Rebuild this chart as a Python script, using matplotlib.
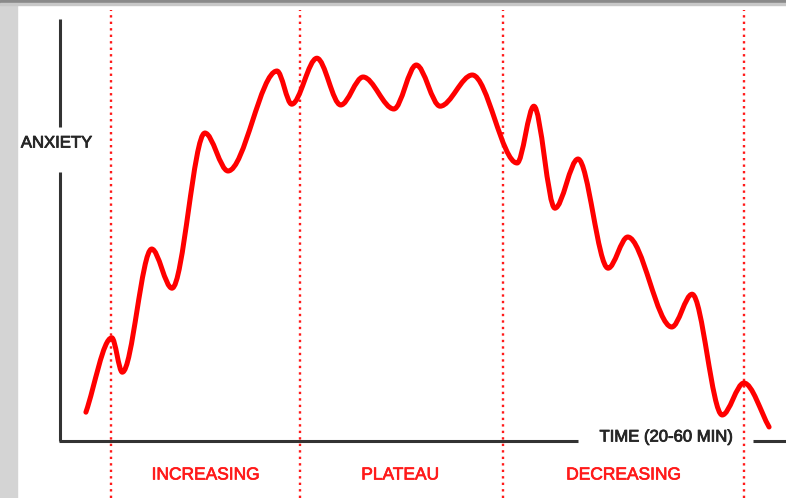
import numpy as np
import matplotlib
matplotlib.use("Agg")
import matplotlib.pyplot as plt
import matplotlib.patheffects as pe
from matplotlib.path import Path
from matplotlib.patches import PathPatch, Rectangle

# turning points of the anxiety curve (time in arbitrary units, anxiety 0-100ish)
time = [3.7, 7.4, 8.9, 13.1, 16.0, 20.7, 24.0, 31.0, 33.1, 36.7, 40.1, 43.3,
        47.7, 50.9, 54.3, 58.9, 65.3, 67.7, 70.7, 74.0, 78.3, 81.1, 87.4,
        90.3, 94.6, 97.7, 101.3]
anxiety = [7.2, 25.8, 17.2, 48.0, 38.2, 77.0, 67.5, 92.5, 84.2, 95.7, 84.0,
           91.0, 83.0, 94.0, 83.7, 91.5, 69.5, 83.7, 58.2, 70.5, 43.2, 51.0,
           28.5, 36.7, 6.5, 14.5, 3.5]

phase_bounds = [7.3, 34.3, 63.3, 97.7]
phase_names = ["INCREASING", "PLATEAU", "DECREASING"]
phase_centers = [20.8, 48.6, 80.5]

fig = plt.figure(figsize=(7.86, 4.98), dpi=100)
ax = fig.add_axes([0, 0, 1, 1])
ax.set_xlim(-60 / 7, 726 / 7)
ax.set_ylim(-57 / 4, 441 / 4)
ax.axis("off")

# window chrome: grey strip on the left, dark edge on top
fig.patches.append(Rectangle((0, 0), 17 / 786, 1, transform=fig.transFigure,
                             color="#d4d4d4", zorder=0))
fig.patches.append(Rectangle((0, 1 - 4 / 498), 1, 4 / 498, transform=fig.transFigure,
                             color="#8a8a8a", zorder=0))
fig.patches.append(Rectangle((0, 1 - 5 / 498), 1, 1.5 / 498, transform=fig.transFigure,
                             color="#c8c8c8", zorder=0))

# phase dividers
for b in phase_bounds:
    ax.plot([b, b], [-14.25, 107.75], color="#ff1a1a", lw=1.7,
            linestyle=(0, (1, 1.75)), zorder=1)

# axes drawn by hand so they can break around the labels
axc = "#333333"
ax.plot([0, 0], [0, 67.2], color=axc, lw=2.2, solid_capstyle="butt")
ax.plot([0, 0], [78.5, 105.5], color=axc, lw=2.2, solid_capstyle="butt")
ax.plot([-0.15, 74], [0, 0], color=axc, lw=2.2, solid_capstyle="butt")
ax.plot([99, 104], [0, 0], color=axc, lw=2.2, solid_capstyle="butt")

dark = "#262626"
ax.text(-0.5, 74.5, "ANXIETY", ha="center", va="center", fontsize=12,
        family="Liberation Sans", color=dark,
        path_effects=[pe.withStroke(linewidth=0.6, foreground=dark)])
ax.text(86.6, 1.0, "TIME (20-60 MIN)", ha="center", va="center", fontsize=12,
        family="Liberation Sans", color=dark,
        path_effects=[pe.withStroke(linewidth=0.6, foreground=dark)])

for name, cx in zip(phase_names, phase_centers):
    ax.text(cx, -8.5, name, ha="center", va="center", fontsize=12.5,
            family="Liberation Sans", color="#ff1a1a",
            path_effects=[pe.withStroke(linewidth=0.5, foreground="#ff1a1a")])

# smooth curve: cubic beziers with flat tangents at the turning points
pts = np.column_stack([time, anxiety])
n = len(pts)
slopes = np.zeros(n)
slopes[0] = (pts[1, 1] - pts[0, 1]) / (pts[1, 0] - pts[0, 0])
slopes[-1] = (pts[-1, 1] - pts[-2, 1]) / (pts[-1, 0] - pts[-2, 0])
verts = [pts[0]]
codes = [Path.MOVETO]
for i in range(n - 1):
    p, q = pts[i], pts[i + 1]
    dx = (q[0] - p[0]) / 3
    verts += [(p[0] + dx, p[1] + slopes[i] * dx),
              (q[0] - dx, q[1] - slopes[i + 1] * dx),
              tuple(q)]
    codes += [Path.CURVE4] * 3
curve = PathPatch(Path(verts, codes), fill=False, edgecolor="#ff0000",
                  lw=3.6, capstyle="round", joinstyle="round", zorder=3)
ax.add_patch(curve)

fig.savefig("out.png", dpi=100)
